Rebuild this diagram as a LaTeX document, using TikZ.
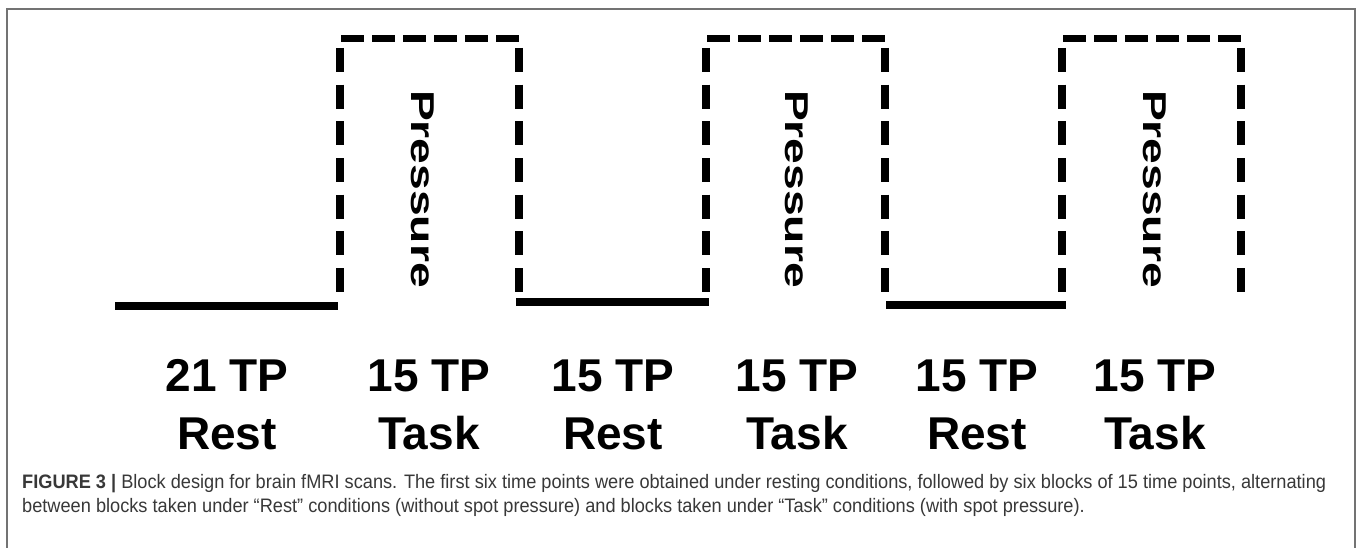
\documentclass[tikz,border=0pt]{standalone}
\usepackage{fontspec}
\setmainfont{Liberation Sans}
\usepackage{graphicx}
\newcommand\capfont{\fontsize{19.5}{23}\selectfont}
\newlength\capw
\begin{document}
\settowidth\capw{\capfont\textbf{FIGURE 3 |} Block design for brain fMRI scans. The first six time points were obtained under resting conditions, followed by six blocks of 15 time points, alternating}%
\pgfmathsetmacro\capsx{1304/\capw}%
\begin{tikzpicture}[x=1pt,y=-1pt,
  restline/.style={line width=8pt},
  sideline/.style={line width=8pt, dash pattern=on 24pt off 12.67pt},
  topline/.style={line width=7pt, dash pattern=on 23pt off 8pt},
  lab/.style={font=\fontsize{46}{50}\selectfont\bfseries, anchor=base, inner sep=0pt},
  press/.style={font=\fontsize{33}{36}\selectfont\bfseries, rotate=-90, inner sep=0pt},
  capnode/.style={anchor=base west, inner sep=0pt, text=black!78},
  frame/.style={line width=1.8pt, draw=black!55}
]
\useasboundingbox (0,0) rectangle (1357,548);
\clip (0,0) rectangle (1357,548);
\fill[white] (0,0) rectangle (1357,548);
% frame
\coordinate (fbl) at (7,600);
\coordinate (ftl) at (7,9);
\coordinate (ftr) at (1355,9);
\coordinate (fbr) at (1355,600);
\draw[frame] (fbl) -- (ftl) -- (ftr) -- (fbr);
% rest segments
\coordinate (r1a) at (115,306); \coordinate (r1b) at (338,306);
\coordinate (r2a) at (516,302); \coordinate (r2b) at (709,302);
\coordinate (r3a) at (886,305); \coordinate (r3b) at (1066,305);
\draw[restline] (r1a) -- (r1b);
\draw[restline] (r2a) -- (r2b);
\draw[restline] (r3a) -- (r3b);
% task boxes
\foreach \L/\R/\n in {340/519/1, 706/885/2, 1062/1241/3}{
  \coordinate (t\n lt) at (\L,48);
  \coordinate (t\n lb) at (\L,292);
  \coordinate (t\n rt) at (\R,48);
  \coordinate (t\n rb) at (\R,292);
  \coordinate (t\n ta) at (\L+1,38.5);
  \coordinate (t\n tb) at (\R+4,38.5);
  \draw[sideline] (t\n lt) -- (t\n lb);
  \draw[sideline] (t\n rt) -- (t\n rb);
  \draw[topline] (t\n ta) -- (t\n tb);
}
\node[press] (p1) at (423,189) {\scalebox{1.4}[1]{Pressure}};
\node[press] (p2) at (797,189) {\scalebox{1.4}[1]{Pressure}};
\node[press] (p3) at (1155,189) {\scalebox{1.4}[1]{Pressure}};
% labels
\node[lab] (n1) at (227,391) {21 TP};
\node[lab] (n2) at (429,391) {15 TP};
\node[lab] (n3) at (613,391) {15 TP};
\node[lab] (n4) at (797,391) {15 TP};
\node[lab] (n5) at (977,391) {15 TP};
\node[lab] (n6) at (1155,391) {15 TP};
\node[lab] (c1) at (227,449) {Rest};
\node[lab] (c2) at (429,449) {Task};
\node[lab] (c3) at (613,449) {Rest};
\node[lab] (c4) at (797,449) {Task};
\node[lab] (c5) at (977,449) {Rest};
\node[lab] (c6) at (1155,449) {Task};
% caption
\node[capnode] (cap1) at (22,488) {\scalebox{\capsx}[1]{\capfont\textbf{FIGURE 3 |} Block design for brain fMRI scans. The first six time points were obtained under resting conditions, followed by six blocks of 15 time points, alternating}};
\node[capnode] (cap2) at (22,512) {\scalebox{\capsx}[1]{\capfont between blocks taken under “Rest” conditions (without spot pressure) and blocks taken under “Task” conditions (with spot pressure).}};
\end{tikzpicture}
\end{document}
